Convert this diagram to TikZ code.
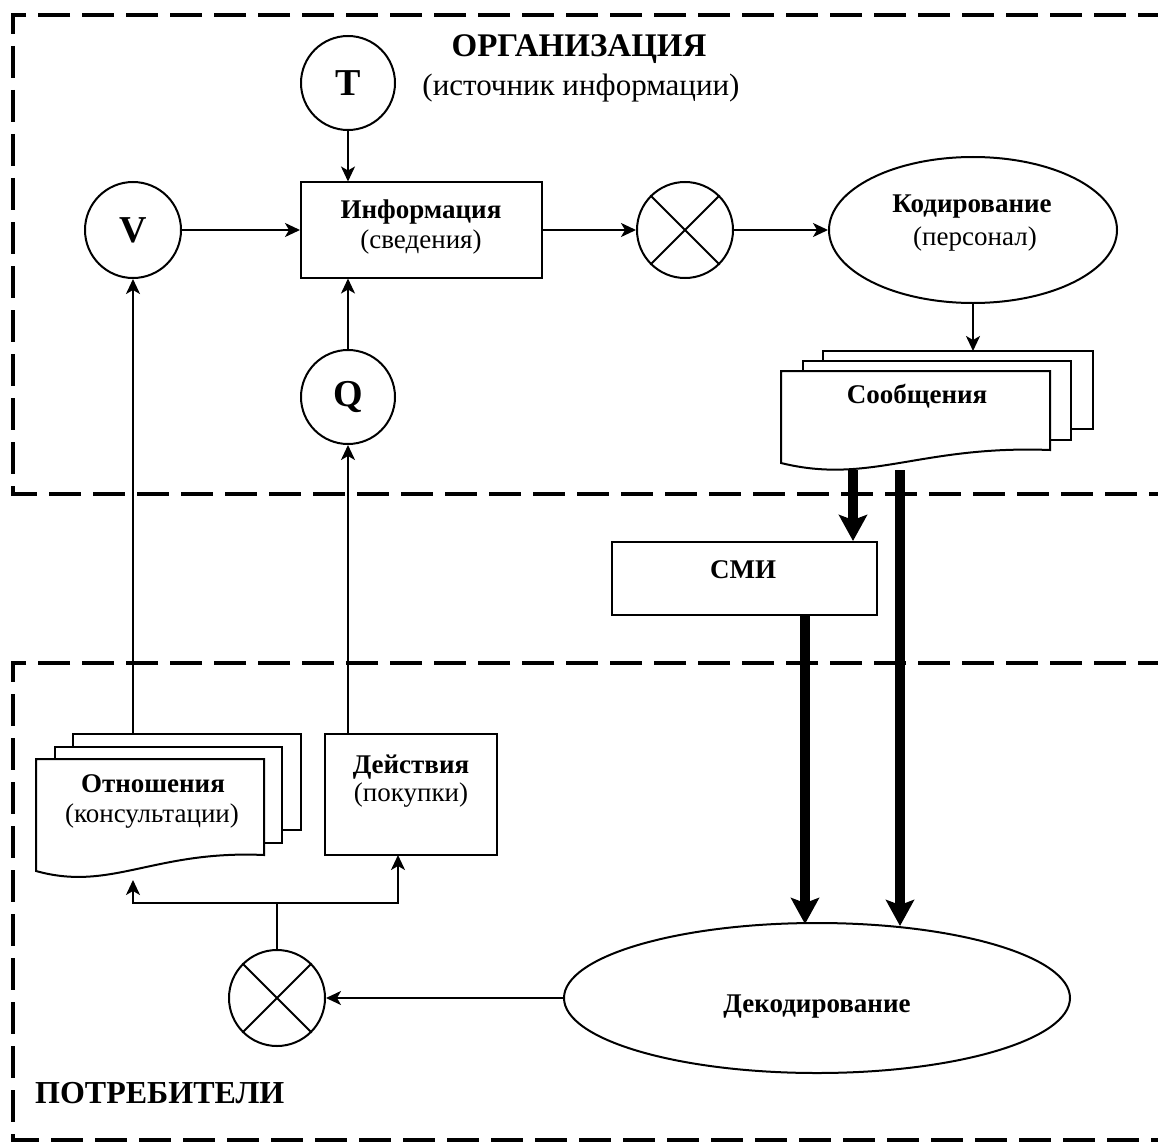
\documentclass[tikz,border=0pt]{standalone}
\usepackage{fontspec}
\setmainfont{Liberation Serif}
\usetikzlibrary{arrows.meta,shapes.geometric,calc}
\begin{document}
\begin{tikzpicture}[x=1pt,y=-1pt,
  ln/.style={line width=2pt},
  circ/.style={draw,circle,ln,inner sep=0pt,font=\bfseries\fontsize{38}{40}\selectfont},
  boxn/.style={draw,ln,inner sep=0pt},
  bt/.style={font=\bfseries\fontsize{27}{30}\selectfont,inner sep=0pt,anchor=base},
  rt/.style={font=\fontsize{27}{30}\selectfont,inner sep=0pt,anchor=base},
  tt/.style={font=\bfseries\fontsize{33}{36}\selectfont,inner sep=0pt,anchor=base},
  trt/.style={font=\fontsize{31}{34}\selectfont,inner sep=0pt,anchor=base},
  arr/.style={ln,-{Stealth[length=15pt,width=14pt,inset=4pt]}},
  bigarr/.style={line width=10pt,-{Stealth[length=26pt,width=28pt,inset=5pt]}},
  frame/.style={line width=4pt,dash pattern=on 32pt off 12pt}
]
\useasboundingbox (0,0) rectangle (1158,1142);
\clip (0,0) rectangle (1158,1142);

% frames
\draw[frame] (1170,15) -- (13,15) -- (13,494) -- (1170,494);
\draw[frame] (1170,663) -- (13,663) -- (13,1140) -- (1170,1140);

% titles
\node[tt] (org) at (579,57) {ОРГАНИЗАЦИЯ};
\node[trt] (orgsub) at (581,96) {(источник информации)};
\node[tt,font=\bfseries\fontsize{32}{36}\selectfont,anchor=base west] (potr) at (35,1103) {ПОТРЕБИТЕЛИ};

% top part
\node[circ,minimum size=94pt] (T) at (348,83) {T};
\node[circ,minimum size=96pt] (V) at (133,230) {V};
\node[circ,minimum size=94pt] (Q) at (348,397) {Q};
\node[boxn,minimum width=241pt,minimum height=95pt] (info) at (421.5,230) {};
\node[bt] (infoA) at (421,218) {Информация};
\node[rt] (infoB) at (421,248) {(сведения)};
\node[circ,minimum size=96pt] (X1) at (685,230) {};
\draw[ln] (X1.45) -- (X1.225) (X1.135) -- (X1.315);
\node[draw,ln,ellipse,minimum width=288pt,minimum height=146pt,inner sep=0pt] (kod) at (973,230) {};
\node[bt] (kodA) at (972,212) {Кодирование};
\node[rt] (kodB) at (975,245) {(персонал)};

% messages stack
\draw[ln,fill=white] (823,351) rectangle (1093,429);
\draw[ln,fill=white] (803,361) rectangle (1071,440);
\draw[ln,fill=white] (781,371) -- (1050,371) -- (1050,450) .. controls (920,445) and (870,485) .. (781,463) -- cycle;
\node[bt] (soob) at (917,403) {Сообщения};
\coordinate (soobtop) at (973,351);
\coordinate (soobA) at (853,470);
\coordinate (soobB) at (900,470);

% media
\node[boxn,minimum width=265pt,minimum height=73pt] (smi) at (744.5,578.5) {};
\node[bt] (smitxt) at (743,578) {СМИ};

% decoding
\node[draw,ln,ellipse,minimum width=506pt,minimum height=150pt,inner sep=0pt] (dek) at (817,998) {};
\node[bt] (dektxt) at (817,1012) {Декодирование};
\coordinate (dekA) at (805,924);
\coordinate (dekB) at (900,926);
\node[circ,minimum size=96pt] (X2) at (277,998) {};
\draw[ln] (X2.45) -- (X2.225) (X2.135) -- (X2.315);

% relations stack
\draw[ln,fill=white] (73,734) rectangle (301,830);
\draw[ln,fill=white] (55,747) rectangle (282,843);
\draw[ln,fill=white] (36,759) -- (264,759) -- (264,855) .. controls (154,850) and (111,892) .. (36,871) -- cycle;
\node[bt] (otnA) at (153,792) {Отношения};
\node[rt] (otnB) at (152,822) {(консультации)};
\coordinate (otntop) at (133,734);
\coordinate (otnbot) at (133,880);

% actions
\node[boxn,minimum width=172pt,minimum height=121pt] (deist) at (411,794.5) {};
\node[bt] (deistA) at (411,773) {Действия};
\node[rt] (deistB) at (411,801) {(покупки)};
\coordinate (deistbot) at (398,855);
\coordinate (jn) at (277,903);

% connectors
\draw[arr] (V.east) -- (V.east -| info.west);
\draw[arr] (info.east) -- (X1.west);
\draw[arr] (X1.east) -- (kod.west);
\draw[arr] (T.south) -- (T.south |- info.north);
\draw[arr] (Q.north) -- (Q.north |- info.south);
\draw[arr] (kod.south) -- (soobtop);
\draw[bigarr] (soobA) -- (soobA |- smi.north);
\draw[bigarr] (soobB) -- (dekB);
\draw[bigarr] (smi.south -| dekA) -- (dekA);
\draw[arr] (dek.west) -- (X2.east);
\draw[ln] (X2.north) -- (jn);
\draw[arr] (jn) -| (otnbot);
\draw[arr] (jn) -| (deistbot);
\draw[arr] (otntop) -- (V.south);
\draw[arr] (deist.north -| Q.south) -- (Q.south);
\end{tikzpicture}
\end{document}
